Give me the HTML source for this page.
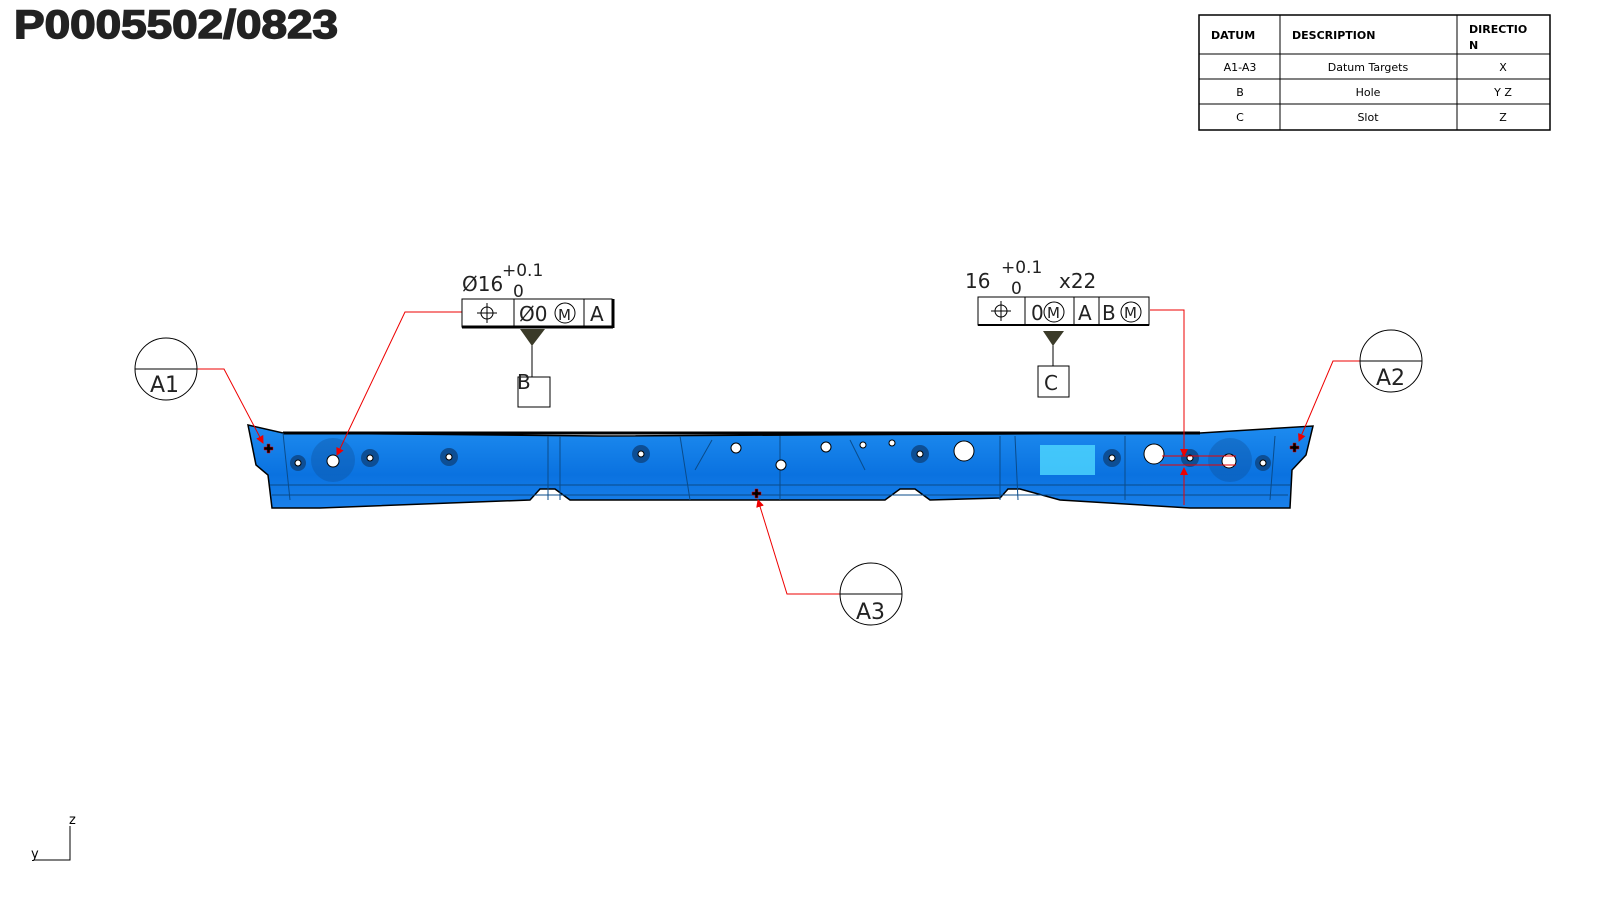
<!DOCTYPE html>
<html><head><style>
html,body{margin:0;padding:0;background:#fff;overflow:hidden;width:1600px;height:900px;}
svg{display:block;font-family:"DejaVu Sans","Liberation Sans",sans-serif;}
</style></head><body>
<svg width="1600" height="900" viewBox="0 0 1600 900" xmlns="http://www.w3.org/2000/svg">
<defs>
<linearGradient id="g" x1="0" y1="0" x2="0" y2="1">
<stop offset="0" stop-color="#1e8cf0"/><stop offset="0.6" stop-color="#0a72e0"/><stop offset="1" stop-color="#1a80ea"/>
</linearGradient>
<marker id="ar" markerWidth="8" markerHeight="8" refX="7" refY="4" orient="auto" markerUnits="userSpaceOnUse"><path d="M0,0 L8,4 L0,8z" fill="#e00"/></marker>
</defs>
<text x="14" y="38" font-family="Liberation Sans,sans-serif" font-weight="bold" font-size="40" fill="#222" stroke="#222" stroke-width="1.5" textLength="324" lengthAdjust="spacingAndGlyphs">P0005502/0823</text>
<!-- table -->
<g font-size="11" fill="#000" stroke="none">
<rect x="1199" y="15" width="351" height="115" fill="none" stroke="#000" stroke-width="1.5"/>
<line x1="1199" y1="54" x2="1550" y2="54" stroke="#000"/>
<line x1="1199" y1="79" x2="1550" y2="79" stroke="#000"/>
<line x1="1199" y1="104" x2="1550" y2="104" stroke="#000"/>
<line x1="1280" y1="15" x2="1280" y2="130" stroke="#000"/>
<line x1="1457" y1="15" x2="1457" y2="130" stroke="#000"/>
<text x="1211" y="39" font-weight="bold">DATUM</text>
<text x="1292" y="39" font-weight="bold">DESCRIPTION</text>
<text x="1469" y="33" font-weight="bold">DIRECTIO</text>
<text x="1469" y="49" font-weight="bold">N</text>
<text x="1240" y="71" text-anchor="middle">A1-A3</text>
<text x="1368" y="71" text-anchor="middle">Datum Targets</text>
<text x="1503" y="71" text-anchor="middle">X</text>
<text x="1240" y="96" text-anchor="middle">B</text>
<text x="1368" y="96" text-anchor="middle">Hole</text>
<text x="1503" y="96" text-anchor="middle">Y Z</text>
<text x="1240" y="121" text-anchor="middle">C</text>
<text x="1368" y="121" text-anchor="middle">Slot</text>
<text x="1503" y="121" text-anchor="middle">Z</text>
</g>
<!-- part -->
<path d="M248,425 L283,433 L600,436 L1000,434 L1200,433 L1313,426 L1306,455 L1292,470 L1290,508 L1190,508 L1060,500 L1020,489 L1008,489 L1000,498 L930,500 L915,489 L900,489 L885,500 L570,500 L555,489 L540,489 L530,500 L320,508 L272,508 L268,475 L256,465 Z" fill="url(#g)" stroke="#000" stroke-width="1.5"/>
<path d="M283,433 L1200,433" stroke="#000" stroke-width="3"/>
<g stroke="#0a4b8a" stroke-width="1" fill="none">
<path d="M270,485 L1290,485"/><path d="M272,495 L1288,495"/><path d="M283,433 L290,500"/>
<path d="M548,436 L548,500"/><path d="M560,436 L560,500"/><path d="M680,436 L690,500"/>
<path d="M712,440 L695,470"/><path d="M850,440 L865,470"/><path d="M1000,436 L1000,500"/>
<path d="M1015,436 L1018,500"/><path d="M1125,436 L1125,500"/><path d="M780,436 L780,500"/>
<path d="M1275,436 L1270,500"/>
</g>
<rect x="1040" y="445" width="55" height="30" fill="#4fd8ff" opacity="0.8"/>
<g fill="#0d4e94">
<circle cx="333" cy="460" r="22" opacity="0.35"/><circle cx="1230" cy="460" r="22" opacity="0.35"/>
<circle cx="298" cy="463" r="8"/><circle cx="370" cy="458" r="9"/><circle cx="449" cy="457" r="9"/>
<circle cx="641" cy="454" r="9"/><circle cx="920" cy="454" r="9"/><circle cx="1112" cy="458" r="9"/>
<circle cx="1190" cy="458" r="9"/><circle cx="1263" cy="463" r="8"/>
</g>
<g fill="#fff" stroke="#000" stroke-width="1">
<circle cx="333" cy="461" r="6"/><circle cx="1229" cy="461" r="7"/>
<circle cx="736" cy="448" r="5"/><circle cx="781" cy="465" r="5"/><circle cx="826" cy="447" r="5"/>
<circle cx="964" cy="451" r="10"/><circle cx="1154" cy="454" r="10"/>
<circle cx="298" cy="463" r="3"/><circle cx="370" cy="458" r="3"/><circle cx="449" cy="457" r="3"/>
<circle cx="641" cy="454" r="3"/><circle cx="920" cy="454" r="3"/><circle cx="1112" cy="458" r="3"/>
<circle cx="1190" cy="458" r="3"/><circle cx="1263" cy="463" r="3"/><circle cx="863" cy="445" r="3"/><circle cx="892" cy="443" r="3"/>
</g>
<g fill="#000" stroke="#e00" stroke-width="0.5">
<path d="M265,446h3v-3h3v3h3v3h-3v3h-3v-3h-3z" transform="translate(-1,1)"/>
<path d="M752,492h3v-3h3v3h3v3h-3v3h-3v-3h-3z"/>
<path d="M1290,446h3v-3h3v3h3v3h-3v3h-3v-3h-3z"/>
</g>
<!-- leaders -->
<g stroke="#e00" stroke-width="1" fill="none">
<path d="M197,369 L224,369 L263,443" marker-end="url(#ar)"/>
<path d="M462,312 L405,312 L337,455" marker-end="url(#ar)"/>
<path d="M840,594 L787,594 L758,500" marker-end="url(#ar)"/>
<path d="M1360,361 L1333,361 L1299,441" marker-end="url(#ar)"/>
<path d="M1150,310 L1184,310 L1184,456" marker-end="url(#ar)"/>
<path d="M1184,505 L1184,468" marker-end="url(#ar)"/>
<path d="M1160,465 L1236,465"/><path d="M1162,456 L1236,456"/>
</g>
<!-- balloons -->
<g fill="#fff" stroke="#000" stroke-width="1">
<circle cx="166" cy="369" r="31"/><line x1="135" y1="369" x2="197" y2="369"/>
<circle cx="1391" cy="361" r="31"/><line x1="1360" y1="361" x2="1422" y2="361"/>
<circle cx="871" cy="594" r="31"/><line x1="840" y1="594" x2="902" y2="594"/>
</g>
<g font-size="22" fill="#222">
<text x="150" y="392">A1</text><text x="1376" y="385">A2</text><text x="856" y="619">A3</text>
</g>
<!-- FCF B -->
<g stroke="#000" fill="#fff">
<rect x="462" y="299" width="150" height="28" stroke-width="1"/>
<line x1="462" y1="327" x2="613" y2="327" stroke-width="3"/>
<line x1="613" y1="299" x2="613" y2="328" stroke-width="3"/>
<line x1="514" y1="299" x2="514" y2="327"/><line x1="584" y1="299" x2="584" y2="327"/>
<circle cx="487" cy="313" r="6" fill="none"/><line x1="477" y1="313" x2="497" y2="313"/><line x1="487" y1="303" x2="487" y2="323"/>
<circle cx="565" cy="313" r="10" fill="none"/>
<line x1="532" y1="329" x2="532" y2="377"/>
<rect x="518" y="377" width="32" height="30" fill="none"/>
</g>
<path d="M520,329 L545,329 L532,346 Z" fill="#3a3a28"/>
<g font-size="20" fill="#222">
<text x="462" y="291">Ø16</text><text x="502" y="276" font-size="17">+0.1</text><text x="513" y="297" font-size="17">0</text>
<text x="519" y="321">Ø0</text><text x="558" y="320" font-size="15">M</text><text x="590" y="321">A</text>
<text x="517" y="389">B</text>
</g>
<!-- FCF C -->
<g stroke="#000" fill="#fff">
<rect x="978" y="297" width="171" height="28" stroke-width="1"/>
<line x1="978" y1="325" x2="1149" y2="325" stroke-width="2"/>
<line x1="1025" y1="297" x2="1025" y2="325"/><line x1="1074" y1="297" x2="1074" y2="325"/><line x1="1099" y1="297" x2="1099" y2="325"/>
<circle cx="1001" cy="311" r="6" fill="none"/><line x1="991" y1="311" x2="1011" y2="311"/><line x1="1001" y1="301" x2="1001" y2="321"/>
<circle cx="1054" cy="312" r="10" fill="none"/><circle cx="1131" cy="312" r="10" fill="none"/>
<line x1="1053" y1="345" x2="1053" y2="366"/>
<rect x="1038" y="366" width="31" height="31" fill="none"/>
</g>
<path d="M1043,331 L1064,331 L1053,346 Z" fill="#3a3a28"/>
<g font-size="20" fill="#222">
<text x="965" y="288">16</text><text x="1001" y="273" font-size="17">+0.1</text><text x="1011" y="294" font-size="17">0</text>
<text x="1059" y="288">x22</text>
<text x="1031" y="320">0</text><text x="1047" y="318" font-size="15">M</text><text x="1078" y="320">A</text>
<text x="1102" y="320">B</text><text x="1124" y="318" font-size="15">M</text>
<text x="1044" y="390">C</text>
</g>
<!-- axes -->
<path d="M70,826 L70,860 L34,860" stroke="#000" fill="none"/>
<text x="69" y="824" font-size="13">z</text><text x="31" y="858" font-size="13">y</text>
</svg>
</body></html>
